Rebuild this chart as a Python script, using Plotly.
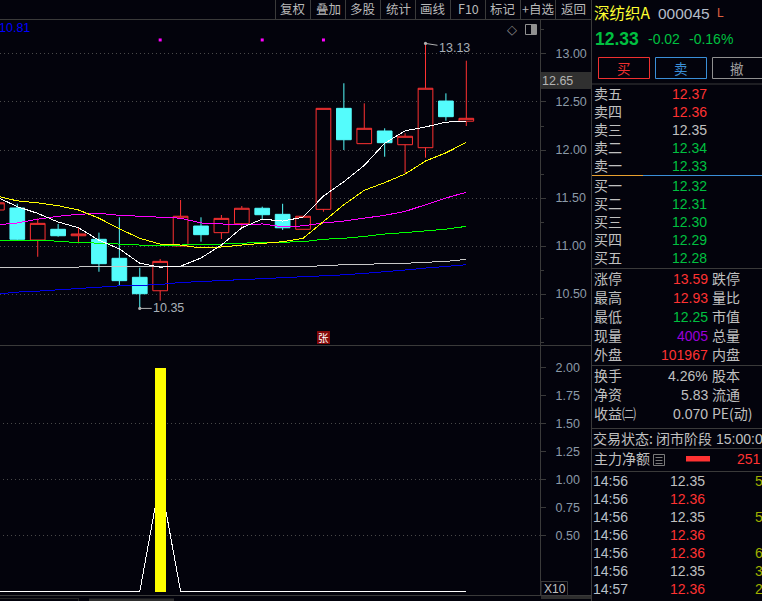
import plotly.graph_objects as go

W, H = 762, 601
BG = "#03030c"
FONT = "Liberation Sans, Noto Sans CJK SC, sans-serif"
CJK = "Noto Sans CJK SC, Liberation Sans, sans-serif"
RED = "#ff3232"
GREEN = "#00c040"
CYAN = "#54fcfc"
GREY = "#c0c0c0"
LINE = "#3a3a3a"
AXT = "#8c9aa8"

# ---- data ----
idx = list(range(-1, 23))
opens = [11.375, 11.396, 11.0625, 11.174, 11.107, 11.07, 10.872, 10.674, 10.534, 11.0, 11.208, 11.139, 11.232,
         11.393, 11.33, 11.174, 11.382, 12.434, 12.066, 12.198, 12.055, 12.024, 12.51, 12.30]
highs = [11.45, 11.44, 11.288, 11.229, 11.195, 11.139, 11.299, 10.774, 10.865, 11.479, 11.299, 11.323, 11.417,
         11.41, 11.44, 11.31, 12.434, 12.695, 12.486, 12.226, 12.174, 13.11, 12.59, 12.93]
lows = [11.375, 11.06, 10.888, 11.097, 11.028, 10.732, 10.583, 10.35, 10.43, 11.0, 11.045, 11.073, 11.184,
        11.278, 11.167, 11.174, 11.357, 12.0, 12.066, 11.93, 11.757, 11.92, 12.305, 12.25]
closes = [11.45, 11.07, 11.236, 11.107, 11.125, 10.816, 10.639, 10.503, 10.84, 11.31, 11.118, 11.288, 11.393,
          11.326, 11.19, 11.31, 12.434, 12.107, 12.226, 12.076, 12.143, 12.643, 12.347, 12.33]

ma_white = [11.51, 11.41, 11.34, 11.25, 11.19, 11.06, 10.97, 10.82, 10.78, 10.79, 10.875, 11.01, 11.19, 11.28,
            11.26, 11.30, 11.52, 11.67, 11.84, 12.07, 12.20, 12.24, 12.29, 12.30]
ma_yellow = [11.52, 11.47, 11.45, 11.42, 11.375, 11.29, 11.18, 11.08, 11.02, 11.01, 10.98, 10.99, 11.01, 11.03,
             11.045, 11.08, 11.26, 11.43, 11.58, 11.66, 11.75, 11.885, 11.97, 12.08]
ma_magenta = [11.22, 11.24, 11.28, 11.31, 11.33, 11.34, 11.32, 11.31, 11.305, 11.29, 11.24, 11.23, 11.22, 11.23,
              11.20, 11.21, 11.24, 11.26, 11.29, 11.32, 11.36, 11.43, 11.50, 11.56]
ma_green = [11.055, 11.06, 11.06, 11.05, 11.035, 11.03, 11.02, 11.01, 11.01, 11.01, 11.02, 11.02, 11.03, 11.035,
            11.04, 11.045, 11.07, 11.08, 11.10, 11.125, 11.14, 11.16, 11.175, 11.205]
ma_grey = [10.78, 10.78, 10.78, 10.78, 10.78, 10.78, 10.78, 10.78, 10.78, 10.78, 10.78, 10.78, 10.78, 10.78,
           10.78, 10.785, 10.795, 10.805, 10.805, 10.82, 10.82, 10.83, 10.84, 10.86]
ma_blue = [10.50, 10.52, 10.53, 10.545, 10.56, 10.57, 10.585, 10.59, 10.60, 10.62, 10.63, 10.64, 10.65, 10.66,
           10.67, 10.675, 10.69, 10.70, 10.715, 10.73, 10.75, 10.77, 10.785, 10.805]
dot_idx = [7, 12, 15]
dot_val = [13.146, 13.146, 13.146]

ind_line = [0, 0, 0, 0, 0, 0, 0, 0, 1.0, 0, 0, 0, 0, 0, 0, 0, 0, 0, 0, 0, 0, 0, 0, 0]
ind_bar_idx = [7]
ind_bar_val = [2.0]
low_ticks = [0.5, 0.75, 1.0, 1.25, 1.5, 1.75, 2.0]
top_ticks = [10.5, 11.0, 11.5, 12.0, 12.5, 13.0]

tool_labels = ["复权", "叠加", "多股", "统计", "画线", "F10", "标记", "+自选", "返回"]
ask_labels = ["卖五", "卖四", "卖三", "卖二", "卖一"]
ask_prices = ["12.37", "12.36", "12.35", "12.34", "12.33"]
ask_colors = [RED, RED, GREY, GREEN, GREEN]
bid_labels = ["买一", "买二", "买三", "买四", "买五"]
bid_prices = ["12.32", "12.31", "12.30", "12.29", "12.28"]
stat_labels = ["涨停", "最高", "最低", "现量", "外盘"]
stat_values = ["13.59", "12.93", "12.25", "4005", "101967"]
stat_colors = [RED, RED, GREEN, "#9a00d8", RED]
stat_right = ["跌停", "量比", "市值", "总量", "内盘"]
fin_labels = ["换手", "净资", "收益㈡"]
fin_values = ["4.26%", "5.83", "0.070"]
fin_right = ["股本", "流通", "PE(动)"]
tick_times = ["14:56", "14:56", "14:56", "14:56", "14:56", "14:56", "14:57"]
tick_prices = ["12.35", "12.36", "12.35", "12.36", "12.36", "12.35", "12.36"]
tick_colors = [GREY, RED, GREY, RED, RED, GREY, RED]
tick_vols = ["5", "", "5", "", "6", "3", "2"]


def px(x):
    return x / W


def py(y):
    return 1 - y / H


fig = go.Figure()
fig.add_trace(go.Candlestick(
    x=idx, open=opens, high=highs, low=lows, close=closes, xaxis="x", yaxis="y",
    increasing=dict(line=dict(color=RED, width=1), fillcolor=BG),
    decreasing=dict(line=dict(color=CYAN, width=1), fillcolor=CYAN),
    hoverinfo="skip", showlegend=False))
for vals, col in [(ma_blue, "#0000e6"), (ma_grey, "#c8c8c8"), (ma_green, "#00ff00"),
                  (ma_magenta, "#ff00ff"), (ma_yellow, "#ffff00"), (ma_white, "#ffffff")]:
    fig.add_trace(go.Scatter(x=idx, y=vals, mode="lines", line=dict(color=col, width=1),
                             xaxis="x", yaxis="y", hoverinfo="skip", showlegend=False))
fig.add_trace(go.Scatter(x=dot_idx, y=dot_val, mode="markers",
                         marker=dict(symbol="square", size=3, color="#ff00ff"),
                         xaxis="x", yaxis="y", hoverinfo="skip", showlegend=False))
fig.add_trace(go.Scatter(x=idx, y=ind_line, mode="lines", line=dict(color="#ffffff", width=1),
                         xaxis="x2", yaxis="y2", hoverinfo="skip", showlegend=False))
fig.add_trace(go.Bar(x=ind_bar_idx, y=ind_bar_val, width=0.54, marker=dict(color="#ffff00", line=dict(width=0)),
                     xaxis="x2", yaxis="y3", hoverinfo="skip", showlegend=False))

annos = []
shapes = []


def txt(x, y, s, color=GREY, size=14, anchor="left", font=FONT, **kw):
    shift = {"left": -1.5, "right": 1.5, "center": 0}[anchor]
    if font == CJK and anchor == "left":
        y -= 1
    annos.append(dict(x=px(x + shift), y=py(y), xref="paper", yref="paper", text=s, showarrow=False,
                      xanchor=anchor, yanchor="middle", align=anchor,
                      font=dict(color=color, size=size, family=font), borderpad=0, **kw))


def seg(x0, y0, x1, y1, color=LINE, width=1):
    shapes.append(dict(type="line", xref="paper", yref="paper", x0=px(x0), y0=py(y0), x1=px(x1), y1=py(y1),
                       line=dict(color=color, width=width), layer="above"))


def box(x0, y0, x1, y1, line=None, fill=None, width=1):
    shapes.append(dict(type="rect", xref="paper", yref="paper", x0=px(x0), y0=py(y0), x1=px(x1), y1=py(y1),
                       line=dict(color=line or "rgba(0,0,0,0)", width=width if line else 0),
                       fillcolor=fill or "rgba(0,0,0,0)", layer="above"))


# frame lines
seg(0, 19.5, 591, 19.5)
seg(0, 345.5, 591, 345.5)
seg(540.5, 19.5, 540.5, 596)
seg(591.5, 0, 591.5, 601)
seg(0, 595.5, 591, 595.5)
seg(0, 598.5, 78, 598.5, color="#242424")
seg(78.5, 598, 78.5, 601, color="#242424")
box(89, 598.5, 174, 601, fill="#2e2e2e")
box(541, 596, 591, 599, fill="#2e2e2e")

# toolbar
for xs in [275.5, 310.5, 345.5, 380.5, 415.5, 450.5, 485.5, 520.5, 555.5]:
    seg(xs, 0, xs, 19.5)
for i, lab in enumerate(tool_labels):
    txt(293 + 35 * i, 9, lab, color="#b8b8b8", size=12.5, anchor="center", font=CJK)

# chart furniture
txt(-1, 28.5, "10.81", color="#0000ff", size=12.5)
annos.append(dict(x=20, y=13.11, xref="x", yref="y", text="13.13", ax=29, ay=4.5, showarrow=True, arrowhead=6,
                  arrowsize=0.8, arrowwidth=1, arrowcolor="#b0b0b0", standoff=0,
                  font=dict(color="#a8b0b8", size=12.5, family=FONT)))
annos.append(dict(x=6, y=10.35, xref="x", yref="y", text="10.35", ax=29, ay=0, showarrow=True, arrowhead=6,
                  arrowsize=0.8, arrowwidth=1, arrowcolor="#b0b0b0", standoff=0,
                  font=dict(color="#a8b0b8", size=12.5, family=FONT)))
txt(512, 30, "◇", color="#8a8a8a", size=13, anchor="center", font="DejaVu Sans")
box(525.5, 24.5, 536.5, 34.5, line="#909090")
box(531, 25, 536, 34, fill="#909090")
box(317, 331, 330, 344, fill="#850808")
txt(323.5, 337.5, "张", color="#ffffff", size=10.5, anchor="center", font=CJK)
box(541, 72, 591, 89, fill="#303030")
txt(542, 80.5, "12.65", color="#b4b4b4", size=12.5)
box(541, 581.5, 567.5, 595.5, line="#3a3a3a", fill=BG)
txt(544, 589, "X10", color="#c0c0c0", size=12)

# right panel
txt(594, 13.5, "深纺织A", color="#ffff30", size=15.5, font=CJK)
txt(658, 14, "000045", color="#b4bcc8", size=15.5)
txt(717, 13, "L", color="#e06040", size=12)
txt(595, 39, "<b>12.33</b>", color=GREEN, size=17.5)
txt(648, 39.5, "-0.02", color=GREEN, size=14)
txt(689, 39.5, "-0.16%", color=GREEN, size=14)
box(598.5, 57.5, 649.5, 78.5, line="#f03030")
box(655.5, 57.5, 706.5, 78.5, line="#3a8fd8")
box(712.5, 57.5, 770, 78.5, line="#909090")
txt(624, 68, "买", color="#f03030", size=13.5, anchor="center", font=CJK)
txt(681, 68, "卖", color="#3a8fd8", size=13.5, anchor="center", font=CJK)
txt(737, 68, "撤", color="#a0a0a0", size=13.5, anchor="center", font=CJK)

seg(592, 84, 762, 84)
seg(592, 175.5, 643, 175.5, color="#e8a030")
seg(643, 175.5, 762, 175.5, color="#3a8fd8")
seg(592, 268.5, 762, 268.5)
seg(592, 365.5, 762, 365.5)
seg(592, 428.5, 762, 428.5)
seg(592, 448.5, 762, 448.5)
seg(592, 471.5, 762, 471.5)

for i, (lab, val, col) in enumerate(zip(ask_labels, ask_prices, ask_colors)):
    y = 94 + 18 * i
    txt(594, y, lab, font=CJK)
    txt(672.5, y, val, color=col)
for i, (lab, val) in enumerate(zip(bid_labels, bid_prices)):
    y = 186 + 18 * i
    txt(594, y, lab, font=CJK)
    txt(672.5, y, val, color=GREEN)
for i, (lab, val, col, rlab) in enumerate(zip(stat_labels, stat_values, stat_colors, stat_right)):
    y = 279 + 19 * i
    txt(594, y, lab, font=CJK)
    txt(707, y, val, color=col, anchor="right")
    txt(712, y, rlab, font=CJK)
for i, (lab, val, rlab) in enumerate(zip(fin_labels, fin_values, fin_right)):
    y = 376 + 19 * i
    txt(594, y, lab, font=CJK)
    txt(707, y, val, anchor="right")
    txt(712, y, rlab, font=CJK)
txt(593, 438.5, "交易状态:", size=14, font=CJK)
txt(656, 438.5, "闭市阶段", size=14, font=CJK)
txt(716, 438.5, "15:00:00", size=14)
txt(594, 459, "主力净额", size=14, font=CJK)
box(653.5, 454.5, 664.5, 465.5, line="#7a7a7a")
seg(655.5, 457.5, 662.5, 457.5, color="#7a7a7a")
seg(655.5, 460.5, 662.5, 460.5, color="#7a7a7a")
seg(655.5, 463.5, 662.5, 463.5, color="#7a7a7a")
box(686, 456, 710, 461.5, fill=RED)
txt(737.5, 459, "251", color=RED)
for i, (t, p, c, v) in enumerate(zip(tick_times, tick_prices, tick_colors, tick_vols)):
    y = 481 + 18 * i
    txt(593, y, t, color="#b8c0c8")
    txt(670.5, y, p, color=c)
    if v:
        txt(755.5, y, v, color="#a0b000")

TOP_D = [py(345), py(20)]
LOW_D = [py(596), py(346)]
common_y = dict(showline=False, side="right", ticks="outside", ticklen=5, tickwidth=1, tickcolor=LINE,
                tickfont=dict(color=AXT, size=12.5, family=FONT), zeroline=False, anchor="x", tickformat=".2f",
                ticklabelstandoff=7)
LOW_RANGE = [-0.0402, 2.192]
fig.update_layout(
    width=W, height=H, margin=dict(l=0, r=0, t=0, b=0, pad=0, autoexpand=False), paper_bgcolor=BG, plot_bgcolor=BG,
    showlegend=False, boxgap=0.28, boxgroupgap=0, bargap=0, dragmode=False, hovermode=False,
    annotations=annos, shapes=shapes,
    xaxis=dict(domain=[0, px(540)], range=[-0.848, 25.61], visible=False, rangeslider=dict(visible=False)),
    xaxis2=dict(domain=[0, px(540)], range=[-0.848, 25.61], visible=False, anchor="y2"),
    yaxis=dict(domain=TOP_D, range=[9.969, 13.354], tickvals=top_ticks, showgrid=True, gridcolor="#4a4a4a",
               griddash="1px,3px", gridwidth=1,
               minor=dict(dtick=0.25, tick0=10.0, ticks="outside", ticklen=3, tickcolor=LINE, showgrid=False),
               **common_y),
    yaxis2=dict(domain=LOW_D, range=LOW_RANGE, tickvals=low_ticks, showgrid=False,
                **{**common_y, "anchor": "x2"}),
    yaxis3=dict(domain=LOW_D, range=LOW_RANGE, overlaying="y2", visible=False, anchor="x2"),
)
for v in [0.5, 1.0, 1.5]:
    fig.add_shape(type="line", xref="x2", yref="y2", x0=-0.7, x1=25.6, y0=v, y1=v,
                  line=dict(color="#4a4a4a", width=1, dash="1px,3px"), layer="below")

fig.write_html("out.html", config=dict(displayModeBar=False, staticPlot=True),
               post_script=("document.body.style.margin='0';document.documentElement.style.overflow='hidden';"
                            "var s=document.createElement('style');"
                            "s.textContent='.scatterlayer path.js-line{shape-rendering:crispEdges}';"
                            "document.head.appendChild(s);"))
